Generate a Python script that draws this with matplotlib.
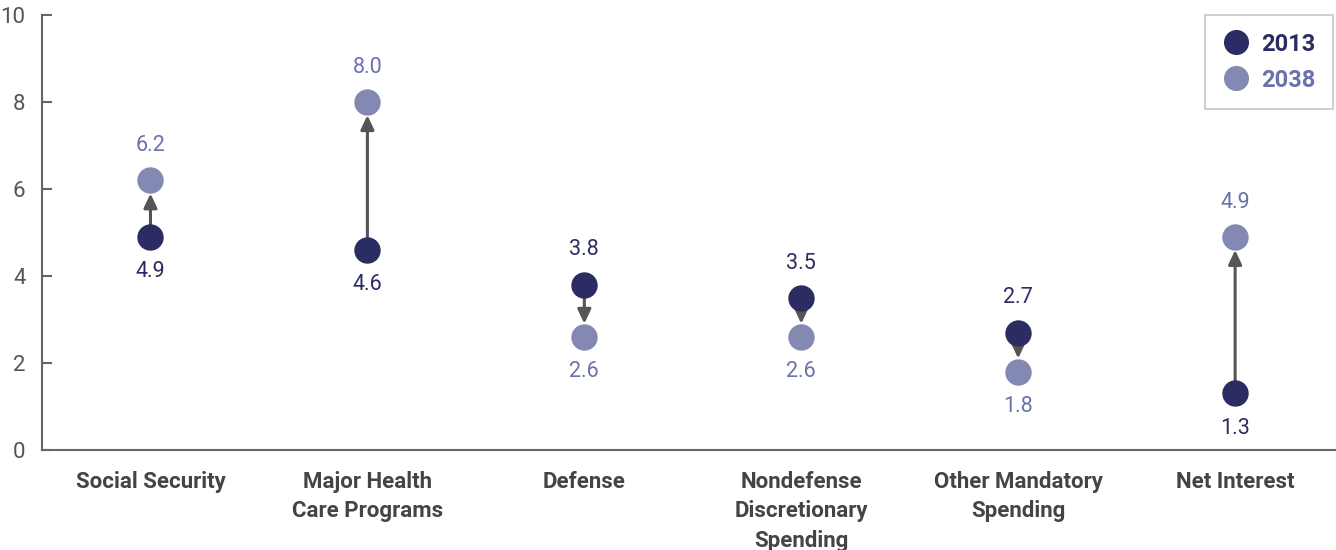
import matplotlib.pyplot as plt
import numpy as np

# Federal spending by category, percent of GDP
categories = ['Social Security', 'Major Health\nCare Programs', 'Defense',
              'Nondefense\nDiscretionary\nSpending', 'Other Mandatory\nSpending',
              'Net Interest']
y2013 = [4.9, 4.6, 3.8, 3.5, 2.7, 1.3]
y2038 = [6.2, 8.0, 2.6, 2.6, 1.8, 4.9]
yticks = [0, 2, 4, 6, 8, 10]

dark = '#2a2c62'
light = '#8389b3'
light_txt = '#6b71ab'
axis_gray = '#666666'

plt.rcParams['font.family'] = ['Roboto', 'DejaVu Sans']

fig = plt.figure(figsize=(13.36, 5.5), dpi=100)
ax = fig.add_axes([42 / 1336, 100 / 550, 1 - 42 / 1336, 435 / 550])

x = np.arange(len(categories))
ms = 19

# arrows start under the 2013 dot and stop at the edge of the 2038 dot
for i in x:
    a, b = y2013[i], y2038[i]
    ax.annotate('', xy=(i, b), xytext=(i, a),
                arrowprops=dict(arrowstyle='-|>,head_length=0.85,head_width=0.4',
                                color='#555555', lw=2.2,
                                shrinkA=0, shrinkB=ms / 2),
                zorder=2)

ax.plot(x, y2013, 'o', ms=ms, color=dark, mec='none', label='2013', zorder=3)
ax.plot(x, y2038, 'o', ms=ms, color=light, mec='none', label='2038', zorder=1)

for i in x:
    a, b = y2013[i], y2038[i]
    up = 1 if b > a else -1
    ax.annotate(f'{b:.1f}', (i, b), xytext=(0, 25 * up), textcoords='offset points',
                ha='center', va='center', fontsize=15.5, color=light_txt)
    ax.annotate(f'{a:.1f}', (i, a), xytext=(0, -25 * up), textcoords='offset points',
                ha='center', va='center', fontsize=15.5, color=dark)

ax.set_xlim(-0.5, 5.465)
ax.set_ylim(0, 10)
ax.set_yticks(yticks)
ax.set_xticks(x)
ax.set_xticklabels(categories, fontsize=16, fontweight='bold', color='#444444',
                   linespacing=1.45, va='top')
ax.tick_params(axis='x', length=0, pad=15)
ax.tick_params(axis='y', direction='in', length=7, width=1.5, color=axis_gray,
               labelsize=16, labelcolor='#555555', pad=12)

for s in ['top', 'right']:
    ax.spines[s].set_visible(False)
for s in ['left', 'bottom']:
    ax.spines[s].set_color(axis_gray)
    ax.spines[s].set_linewidth(1.5)

leg = ax.legend(loc='upper right', frameon=True, fancybox=False, fontsize=17,
                markerscale=0.95, handletextpad=0.5, borderpad=0.75,
                labelspacing=0.55, handlelength=1.1, borderaxespad=0,
                bbox_to_anchor=(0.9977, 1.0))
leg.get_frame().set_edgecolor('#bbbbbb')
leg.get_frame().set_linewidth(1.2)
for t, c in zip(leg.get_texts(), [dark, light_txt]):
    t.set_color(c)
    t.set_fontweight('bold')

fig.savefig('out.png', dpi=100)
